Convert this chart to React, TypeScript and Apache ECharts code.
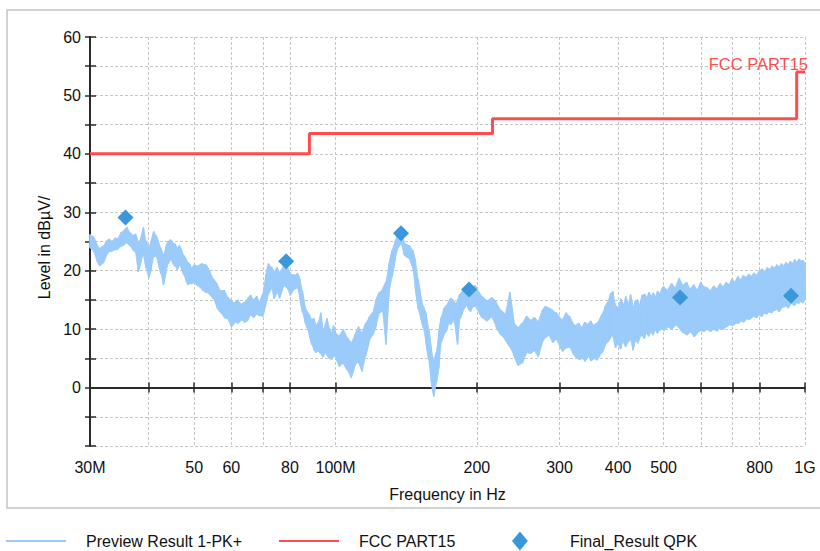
import React, { useEffect, useRef } from 'react';
import * as echarts from 'echarts';

// Preview trace (min/max envelope of the PK+ scan read per frequency bin)
const previewFreqMHz = [
  30, 30.5, 31, 31.5, 32, 32.5, 33, 33.5, 34, 34.5, 35, 35.5, 36, 36.5, 37, 37.5, 38, 38.5, 39, 39.5,
  40, 40.5, 41, 41.5, 42, 42.5, 43, 43.5, 44, 44.5, 45, 45.5, 46, 46.5, 47, 47.5, 48, 48.5, 49, 49.5, 50,
  51, 52, 53, 54, 55, 56, 57, 58, 59, 60, 61, 62, 63, 64, 65, 66, 67, 68, 69, 70,
  71, 72, 73, 74, 75, 76, 77, 78, 79, 80, 81, 82, 83, 84, 85, 86, 87, 88, 89, 90,
  91, 92, 93, 94, 95, 96, 97, 98, 99, 100,
  102, 104, 106, 108, 110, 112, 114, 116, 118, 120, 122, 124, 126, 128, 130, 132, 134, 136, 138, 140,
  142, 144, 146, 148, 150, 152, 154, 156, 158, 160, 162, 164, 166, 168, 170, 172, 174, 176, 178, 180,
  182, 184, 186, 188, 190, 192, 194, 196, 198, 200,
  205, 210, 215, 220, 225, 230, 235, 240, 245, 250, 255, 260, 265, 270, 275, 280, 285, 290, 295, 300,
  305, 310, 315, 320, 325, 330, 335, 340, 345, 350, 355, 360, 365, 370, 375, 380, 385, 390, 395, 400,
  405, 410, 415, 420, 425, 430, 435, 440, 445, 450, 455, 460, 465, 470, 475, 480, 485, 490, 495, 500,
  510, 520, 530, 540, 550, 560, 570, 580, 590, 600, 610, 620, 630, 640, 650, 660, 670, 680, 690, 700,
  710, 720, 730, 740, 750, 760, 770, 780, 790, 800, 810, 820, 830, 840, 850, 860, 870, 880, 890, 900,
  910, 920, 930, 940, 950, 960, 970, 980, 990, 1000,
];
const previewMax = [
  26.2, 25.8, 24.5, 23.8, 24.2, 25.0, 25.4, 25.0, 25.6, 25.5, 26.6, 26.9, 27.4, 26.5, 26.0, 26.3, 24.8, 25.5, 27.4, 25.0,
  24.0, 25.0, 26.7, 26.0, 24.8, 23.8, 22.5, 24.0, 25.0, 25.3, 24.8, 24.6, 23.8, 24.3, 23.5, 22.6, 22.0, 21.4, 21.0, 20.4, 21.0,
  20.8, 21.2, 21.0, 19.8, 18.5, 17.6, 16.5, 16.6, 15.4, 14.8, 14.5, 15.0, 14.2, 14.6, 15.2, 15.8, 15.0, 15.6, 14.6, 16.0,
  19.0, 21.2, 20.6, 19.8, 20.6, 19.6, 20.3, 21.3, 20.6, 19.5, 19.3, 19.2, 19.6, 18.5, 16.5, 14.0, 13.0, 12.4, 11.6, 11.8,
  10.6, 11.2, 12.8, 9.8, 10.5, 11.8, 10.2, 9.2, 10.6, 9.4,
  8.8, 9.9, 8.5, 7.6, 9.0, 10.4, 9.2, 11.0, 12.0, 12.8, 15.0, 16.3, 16.8, 18.0, 21.0, 23.5, 25.0, 26.2, 26.4, 24.8,
  24.4, 24.2, 23.5, 21.6, 18.5, 15.4, 13.8, 12.6, 10.0, 6.5, 4.5, 6.0, 9.5, 12.0, 13.4, 14.0, 14.6, 15.3, 15.0, 14.4,
  14.8, 16.0, 16.4, 16.8, 17.2, 16.4, 15.8, 16.0, 17.5, 17.0,
  15.6, 14.8, 15.4, 14.6, 13.2, 12.5, 16.3, 11.1, 10.2, 11.0, 12.2, 11.5, 12.0, 11.2, 13.0, 13.9, 13.6, 13.2, 12.8, 12.0,
  11.6, 12.8, 12.2, 11.0, 10.6, 11.0, 10.2, 11.2, 10.8, 11.4, 10.6, 11.0, 11.6, 12.6, 13.8, 14.6, 16.0, 16.4, 14.0, 13.6,
  15.2, 14.0, 15.6, 14.2, 15.9, 13.6, 14.8, 15.0, 14.0, 15.8, 16.0, 15.4, 16.3, 15.6, 16.2, 15.4, 16.5, 16.0, 16.8, 17.3,
  16.6, 17.8, 17.0, 18.7, 17.4, 18.0, 16.8, 17.6, 16.6, 18.0, 17.2, 17.0, 16.6, 17.4, 16.9, 17.8, 17.2, 18.0, 17.6, 18.6,
  18.0, 19.0, 18.4, 19.2, 18.8, 19.4, 19.0, 19.6, 19.2, 20.0, 20.3, 19.8, 20.5, 20.2, 20.8, 20.4, 21.0, 20.6, 21.2, 20.8,
  21.4, 21.0, 21.6, 21.2, 21.9, 21.4, 22.0, 21.6, 21.8, 21.0,
];
const previewMin = [
  24.0, 23.5, 21.8, 20.8, 21.3, 22.6, 23.3, 23.4, 23.6, 23.8, 24.2, 24.5, 24.8, 24.3, 23.6, 23.2, 19.8, 21.5, 23.0, 20.5,
  18.8, 20.2, 22.4, 22.5, 21.0, 19.5, 17.6, 19.6, 21.2, 22.0, 21.4, 20.8, 20.2, 21.0, 20.4, 19.3, 18.5, 17.6, 17.8, 17.8, 18.0,
  17.4, 16.8, 16.3, 16.0, 15.2, 13.6, 12.8, 12.0, 11.8, 10.4, 11.2, 11.0, 11.6, 11.2, 11.5, 12.5, 12.0, 12.6, 12.3, 12.2,
  14.2, 16.0, 17.2, 15.2, 16.4, 15.3, 16.8, 17.5, 17.0, 15.8, 16.5, 16.9, 17.2, 15.3, 13.0, 11.4, 10.3, 9.0, 7.4, 6.5,
  6.0, 6.3, 5.8, 5.2, 6.0, 5.6, 5.0, 4.8, 5.4, 5.3,
  3.6, 4.2, 3.0, 1.7, 3.8, 4.4, 2.8, 5.5, 8.0, 9.0, 10.5, 12.8, 13.2, 7.4, 16.3, 19.0, 22.0, 24.0, 24.8, 22.8,
  22.3, 22.0, 20.6, 17.0, 13.5, 11.8, 10.2, 7.5, 4.8, 1.0, -1.5, 0.8, 3.5, 7.8, 9.0, 9.6, 11.0, 10.8, 11.6, 10.6,
  7.4, 11.8, 12.6, 13.5, 14.2, 13.4, 13.0, 13.8, 14.0, 13.6,
  12.0, 11.4, 12.2, 10.4, 9.0, 8.2, 7.0, 5.5, 3.8, 4.2, 6.0, 5.8, 6.4, 5.3, 7.5, 8.6, 9.0, 7.7, 8.4, 7.2,
  6.2, 6.8, 7.0, 6.0, 5.2, 4.8, 5.0, 4.5, 5.4, 4.6, 5.0, 4.7, 5.4, 6.0, 7.2, 7.8, 8.5, 9.0, 6.8, 7.6,
  6.6, 8.0, 7.0, 7.8, 8.4, 6.4, 8.2, 7.6, 8.6, 9.0, 8.4, 9.4, 8.8, 9.6, 9.0, 10.0, 9.3, 9.8, 10.2, 9.8,
  10.4, 10.0, 10.8, 10.2, 9.4, 9.0, 9.6, 8.7, 9.4, 9.8, 9.6, 10.0, 9.6, 10.0, 9.7, 10.2, 10.0, 10.4, 10.8, 10.6,
  11.0, 11.0, 11.4, 11.2, 11.8, 11.6, 12.0, 12.2, 12.0, 12.4, 12.2, 12.8, 12.6, 13.0, 12.8, 13.2, 13.4, 13.0, 13.6, 13.8,
  14.0, 13.6, 14.2, 14.4, 14.0, 14.6, 14.4, 14.8, 14.5, 15.0,
];

// FCC PART15 limit line
const limitFreqMHz = [30, 88, 88, 216, 216, 960, 960, 1000];
const limitLevel = [40, 40, 43.5, 43.5, 46, 46, 54, 54];

// Final_Result QPK
const qpkFreqMHz = [35.7, 78.5, 137.9, 192.5, 541.8, 933.6];
const qpkLevel = [29.1, 21.6, 26.4, 16.8, 15.4, 15.7];

// Axis ticks / labels
const xTickMHz = [30, 40, 50, 60, 70, 80, 100, 200, 300, 400, 500, 600, 700, 800, 1000];
const xLabelMHz = [30, 50, 60, 80, 100, 200, 300, 400, 500, 800, 1000];
const xLabelText: Record<number, string> = { 30: '30M', 100: '100M', 1000: '1G' };
const yLabelValues = [0, 10, 20, 30, 40, 50, 60];

const TRACE = '#9BCBFA';
const LIMIT = '#FF4D4D';
const QPK = '#3A97DC';
const FONT = '"Liberation Sans", Arial, sans-serif';
const AXIS_COLOR = '#2a2a2a';

const NAME_PREVIEW = 'Preview Result 1-PK+';
const NAME_LIMIT = 'FCC PART15';
const NAME_QPK = 'Final_Result QPK';

function buildOption() {
  const bins = previewFreqMHz.map((f, i) => [f, previewMax[i], previewMin[i]]);
  const zigzag: number[][] = [];
  previewFreqMHz.forEach((f, i) => {
    if (i % 2 === 0) {
      zigzag.push([f, previewMax[i]], [f, previewMin[i]]);
    } else {
      zigzag.push([f, previewMin[i]], [f, previewMax[i]]);
    }
  });
  const limitData: any[] = limitFreqMHz.map((f, i) => [f, limitLevel[i]]);
  const last = limitData.length - 1;
  limitData[last] = {
    value: limitData[last],
    symbol: 'circle',
    symbolSize: 0,
    label: {
      show: true,
      formatter: NAME_LIMIT,
      position: 'top',
      align: 'right',
      distance: 0,
      offset: [3, 0],
      color: LIMIT,
      fontSize: 16.5,
      fontFamily: FONT,
    },
  };

  const dashed = { type: [3, 2] as any, color: '#c6c6c6', width: 1 };
  const tickStyle = { color: AXIS_COLOR, width: 1.5 };
  const legendText = { fontSize: 16, color: '#111', fontFamily: FONT, padding: [0, 0, 0, 15] };
  const legendBase = { padding: 0, itemWidth: 60, itemHeight: 16, textStyle: legendText };

  return {
    animation: false,
    backgroundColor: '#fff',
    textStyle: { fontFamily: FONT },
    graphic: [
      {
        type: 'rect',
        silent: true,
        z: -10,
        shape: { x: 7, y: 10, width: 830, height: 498 },
        style: { fill: 'none', stroke: '#c4c4c4', lineWidth: 1.5 },
      },
    ],
    grid: { left: 90, right: 15, top: 37, bottom: 105 },
    legend: [
      { ...legendBase, left: 5, top: 533, data: [{ name: NAME_PREVIEW, itemStyle: { opacity: 0 } }] },
      { ...legendBase, left: 278, top: 533, data: [{ name: NAME_LIMIT, itemStyle: { opacity: 0 } }] },
      {
        ...legendBase,
        left: 512,
        top: 531.5,
        itemHeight: 19,
        symbolKeepAspect: true,
        data: [{ name: NAME_QPK, icon: 'path://M0,-1.2L1,0L0,1.2L-1,0Z' }],
      },
    ],
    xAxis: [
      {
        type: 'log',
        logBase: 10,
        min: 30,
        max: 1000,
        position: 'bottom',
        name: 'Frequency in Hz',
        nameLocation: 'middle',
        nameGap: 40,
        nameTextStyle: { fontSize: 16, color: '#111', fontFamily: FONT },
        axisLine: { show: true, lineStyle: { color: AXIS_COLOR, width: 2 } },
        axisTick: { show: true, inside: false, length: 5, lineStyle: tickStyle, customValues: xTickMHz },
        axisLabel: {
          customValues: xLabelMHz,
          margin: 13,
          fontSize: 16,
          color: '#111',
          fontFamily: FONT,
          formatter: (v: number) => {
            const r = Math.round(v);
            return xLabelText[r] ?? String(r);
          },
        },
        splitLine: { show: true, lineStyle: dashed },
        minorTick: { show: false },
        minorSplitLine: { show: false },
      },
      {
        type: 'log',
        logBase: 10,
        min: 30,
        max: 1000,
        position: 'bottom',
        axisLine: { show: false },
        axisTick: { show: true, inside: true, length: 5, lineStyle: tickStyle, customValues: xTickMHz },
        axisLabel: { show: false },
        splitLine: { show: false },
      },
    ],
    yAxis: [
      {
        type: 'value',
        min: -10,
        max: 60,
        interval: 5,
        position: 'left',
        name: 'Level in dBµV/',
        nameLocation: 'middle',
        nameGap: 34,
        nameRotate: 90,
        nameTextStyle: { fontSize: 16, color: '#111', fontFamily: FONT, padding: [0, 12, 0, 0] },
        axisLine: { show: true, lineStyle: { color: AXIS_COLOR, width: 2 } },
        axisTick: { show: true, inside: false, length: 5, lineStyle: tickStyle },
        axisLabel: {
          margin: 9,
          fontSize: 16,
          color: '#111',
          fontFamily: FONT,
          formatter: (v: number) => (yLabelValues.indexOf(v) >= 0 ? String(v) : ''),
        },
        splitLine: { show: true, lineStyle: dashed },
      },
      {
        type: 'value',
        min: -10,
        max: 60,
        interval: 5,
        position: 'left',
        axisLine: { show: false },
        axisTick: { show: true, inside: true, length: 6, lineStyle: tickStyle },
        axisLabel: { show: false },
        splitLine: { show: false },
      },
    ],
    series: [
      {
        name: NAME_PREVIEW,
        type: 'line',
        data: zigzag,
        showSymbol: false,
        symbol: 'none',
        lineStyle: { color: TRACE, width: 1.5 },
        itemStyle: { color: TRACE },
        z: 2,
      },
      {
        name: NAME_PREVIEW,
        type: 'custom',
        data: bins,
        encode: { x: 0, y: [1, 2] },
        z: 2,
        renderItem: (params: any, api: any) => {
          const i = params.dataIndex;
          if (i >= previewFreqMHz.length - 1) return null;
          const p1 = api.coord([previewFreqMHz[i], previewMax[i]]);
          const p2 = api.coord([previewFreqMHz[i + 1], previewMax[i + 1]]);
          const p3 = api.coord([previewFreqMHz[i + 1], previewMin[i + 1]]);
          const p4 = api.coord([previewFreqMHz[i], previewMin[i]]);
          return {
            type: 'polygon',
            shape: { points: [p1, p2, p3, p4] },
            style: { fill: TRACE, stroke: TRACE, lineWidth: 0.8 },
          };
        },
      },
      {
        name: NAME_LIMIT,
        type: 'line',
        data: limitData,
        showSymbol: true,
        symbol: 'none',
        lineStyle: { color: LIMIT, width: 3 },
        itemStyle: { color: LIMIT },
        z: 4,
      },
      {
        name: NAME_QPK,
        type: 'scatter',
        data: qpkFreqMHz.map((f, i) => [f, qpkLevel[i]]),
        symbol: 'diamond',
        symbolSize: 16,
        itemStyle: { color: QPK, opacity: 1 },
        z: 5,
      },
    ],
  };
}

export default function App() {
  const ref = useRef<HTMLDivElement>(null);
  useEffect(() => {
    if (!ref.current) return;
    const chart = echarts.init(ref.current, null, { renderer: 'svg' });
    chart.setOption(buildOption() as any);
    return () => chart.dispose();
  }, []);
  return (
    <div
      ref={ref}
      style={{ position: 'fixed', left: 0, top: 0, width: 820, height: 551, background: '#fff' }}
    />
  );
}
